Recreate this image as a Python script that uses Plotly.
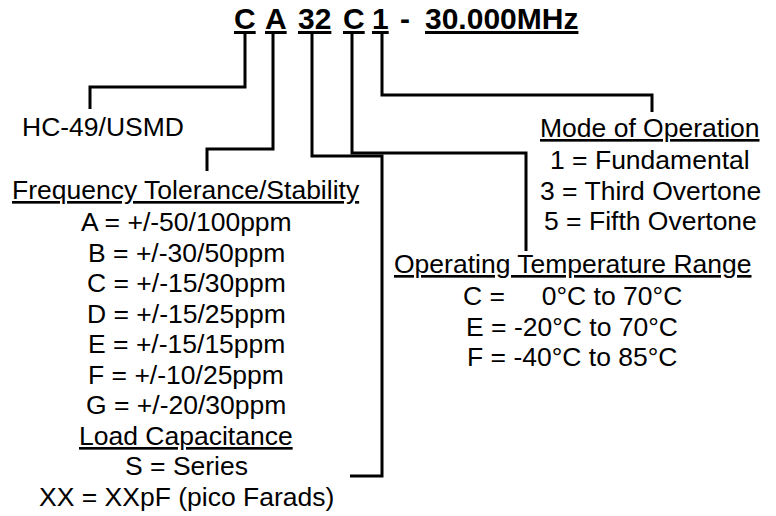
import plotly.graph_objects as go

W, H = 776, 516
NB = "\u00a0"

# ---- text content ----
part_codes = ["C", "A", "32", "C", "1", "-", "30.000MHz"]
part_underlined = [True, True, True, True, True, False, True]
part_x = [245, 276, 314.5, 354, 380.5, 405, 501]

package_label = "HC-49/USMD"
tol_heading = "Frequency Tolerance/Stability"
tol_items = ["A = +/-50/100ppm", "B = +/-30/50ppm", "C = +/-15/30ppm",
             "D = +/-15/25ppm", "E = +/-15/15ppm", "F = +/-10/25ppm",
             "G = +/-20/30ppm"]
load_heading = "Load Capacitance"
load_items = ["S = Series", "XX = XXpF (pico Farads)"]
mode_heading = "Mode of Operation"
mode_items = ["1 = Fundamental", "3 = Third Overtone", "5 = Fifth Overtone"]
temp_heading = "Operating Temperature Range"
temp_items = ["C =" + NB * 5 + "0°C to 70°C", "E = -20°C to 70°C", "F = -40°C to 85°C"]

# leader lines (pixel coordinates of the diagram)
leader_paths = [
    [(245, 33), (245, 87), (90, 87), (90, 109)],
    [(273, 33), (273, 149), (207, 149), (207, 171)],
    [(312, 33), (312, 156), (382, 156), (382, 476), (350, 476)],
    [(352, 33), (352, 153), (526, 153), (526, 251)],
    [(382, 33), (382, 95), (652, 95), (652, 112)],
]

FONT = "Liberation Sans, Arial, sans-serif"
FS = 26.5
LS = 30.5

fig = go.Figure()

for path in leader_paths:
    xs = [p[0] for p in path]
    ys = [p[1] for p in path]
    fig.add_trace(go.Scatter(x=xs, y=ys, mode="lines",
                             line=dict(color="black", width=3),
                             hoverinfo="skip", showlegend=False))

ann = []

def add_text(txt, x, y, size=FS, bold=False, underline=False, xanchor="center"):
    ann.append(dict(
        text=txt, x=x, y=y, xref="x", yref="y", showarrow=False,
        xanchor=xanchor, yanchor="middle",
        font=dict(family=FONT, size=size, color="black",
                  weight="bold" if bold else "normal",
                  lineposition="under" if underline else "none"),
    ))

for code, ul, x in zip(part_codes, part_underlined, part_x):
    add_text(code, x, 18, size=30, bold=True, underline=ul)

add_text(package_label, 102.5, 127)

# left column
cx_left = 186
add_text(tol_heading, cx_left, 190, underline=True)
y = 222
for t in tol_items:
    add_text(t, cx_left, y)
    y += LS
add_text(load_heading, cx_left, y, underline=True)
y += LS
for t in load_items:
    add_text(t, cx_left, y)
    y += LS

# mode of operation
cx_mode = 650
add_text(mode_heading, cx_mode, 128, underline=True)
y = 160
for t in mode_items:
    add_text(t, cx_mode, y)
    y += LS

# temperature range
cx_temp = 572
add_text(temp_heading, cx_temp, 264, underline=True)
y = 296
for t in temp_items:
    add_text(t, cx_temp, y)
    y += LS

fig.update_layout(
    width=W, height=H,
    margin=dict(l=0, r=0, t=0, b=0),
    paper_bgcolor="white", plot_bgcolor="white",
    xaxis=dict(range=[0, W], visible=False, fixedrange=True),
    yaxis=dict(range=[H, 0], visible=False, fixedrange=True),
    annotations=ann,
    showlegend=False,
)

fig.write_html(
    "out.html",
    config={"displayModeBar": False, "staticPlot": True},
    post_script="document.body.style.margin='0';document.body.style.overflow='hidden';",
)
